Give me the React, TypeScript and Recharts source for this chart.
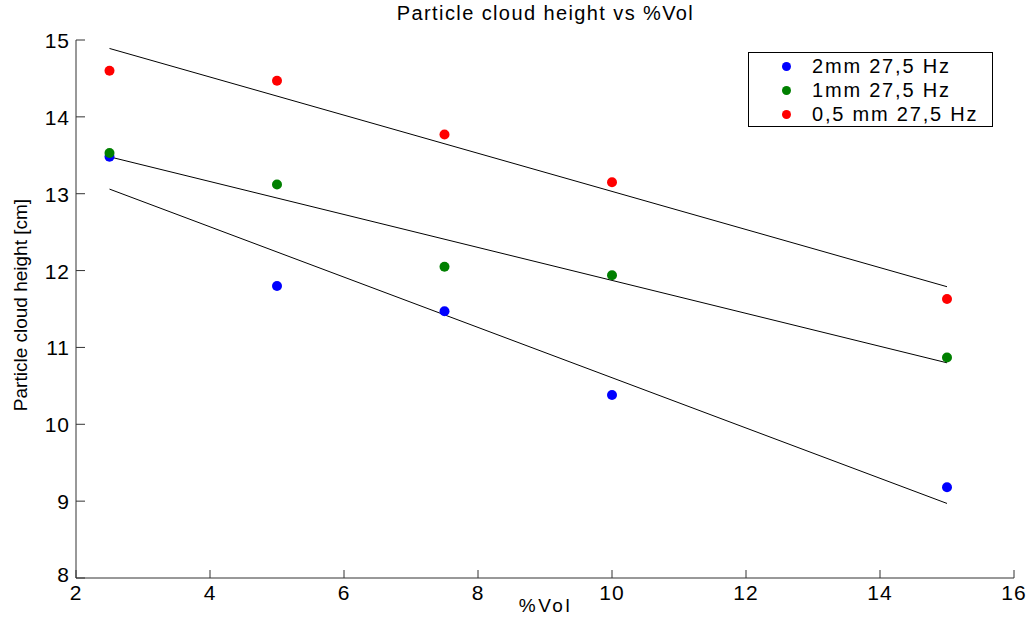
import {
  ComposedChart,
  Scatter,
  XAxis,
  YAxis,
} from "recharts"

const VOL = [2.5, 5, 7.5, 10, 15]

const HEIGHT_2MM = [13.48, 11.8, 11.47, 10.38, 9.18]
const HEIGHT_1MM = [13.53, 13.12, 12.05, 11.94, 10.87]
const HEIGHT_05MM = [14.6, 14.47, 13.77, 13.15, 11.63]

// end points of the fitted lines
const FIT_X = [2.5, 15]
const FIT_2MM = [13.06, 8.97]
const FIT_1MM = [13.48, 10.8]
const FIT_05MM = [14.89, 11.79]

const X_TICKS = [2, 4, 6, 8, 10, 12, 14, 16]
const Y_TICKS = [8, 9, 10, 11, 12, 13, 14, 15]

const SERIES = [
  { name: "2mm 27,5 Hz", values: HEIGHT_2MM, fit: FIT_2MM, color: "#0000ff" },
  { name: "1mm 27,5 Hz", values: HEIGHT_1MM, fit: FIT_1MM, color: "#008000" },
  { name: "0,5 mm 27,5 Hz", values: HEIGHT_05MM, fit: FIT_05MM, color: "#ff0000" },
]

const FONT = "'Liberation Sans', Arial, sans-serif"

const toPoints = (xs: number[], ys: number[]) => xs.map((x, i) => ({ x, y: ys[i] }))

const Dot = (props: any) => (
  <circle cx={props.cx} cy={props.cy} r={5} fill={props.fill} />
)

const NoDot = () => <g />

const XTick = (props: any) => {
  const { x, y, payload } = props
  return (
    <g>
      <line x1={x} y1={y} x2={x} y2={y - 8} stroke="#333" />
      <text x={x} y={y + 22} textAnchor="middle" fontSize={21} letterSpacing={1} fontFamily={FONT} fill="#000">
        {payload.value}
      </text>
    </g>
  )
}

const YTick = (props: any) => {
  const { x, y, payload } = props
  return (
    <g>
      <line x1={x} y1={y} x2={x + 9} y2={y} stroke="#333" />
      <text x={x - 6} y={payload.value === 8 ? y + 4 : y + 8} textAnchor="end" fontSize={21} letterSpacing={1} fontFamily={FONT} fill="#000">
        {payload.value}
      </text>
    </g>
  )
}

const LegendBox = () => (
  <div
    style={{
      position: "absolute",
      left: 748,
      top: 52,
      border: "1px solid #000",
      background: "#fff",
      width: 245,
      height: 75,
      boxSizing: "border-box",
      padding: "1px 0 0 0",
      fontFamily: FONT,
      fontSize: 20,
      letterSpacing: 1.8,
    }}
  >
    {SERIES.map((s) => (
      <div key={s.name} style={{ display: "flex", alignItems: "center", height: 24 }}>
        <span
          style={{
            display: "inline-block",
            width: 9,
            height: 9,
            borderRadius: "50%",
            background: s.color,
            marginLeft: 33,
            marginRight: 21,
          }}
        />
        <span>{s.name}</span>
      </div>
    ))}
  </div>
)

export default function App() {
  return (
    <div style={{ position: "absolute", left: 0, top: 0, width: 1031, height: 622, background: "#fff" }}>
      <div
        style={{
          position: "absolute",
          left: 0,
          width: 1031,
          top: 2,
          textAlign: "center",
          fontFamily: FONT,
          fontSize: 20,
          letterSpacing: 1.4,
          paddingLeft: 60,
          boxSizing: "border-box",
        }}
      >
        Particle cloud height vs %Vol
      </div>
      <div
        style={{
          position: "absolute",
          left: 21,
          top: 305,
          transform: "translate(-50%, -50%) rotate(-90deg)",
          whiteSpace: "nowrap",
          fontFamily: FONT,
          fontSize: 19,
        }}
      >
        Particle cloud height [cm]
      </div>
      <div
        style={{
          position: "absolute",
          left: 0,
          width: 1031,
          paddingLeft: 60,
          boxSizing: "border-box",
          top: 595,
          textAlign: "center",
          fontFamily: FONT,
          fontSize: 19,
          letterSpacing: 2.5,
        }}
      >
        %Vol
      </div>
      <ComposedChart width={1031} height={622} margin={{ top: 40, right: 17, bottom: 0, left: 0 }}>
        <XAxis
          type="number"
          dataKey="x"
          domain={[2, 16]}
          ticks={X_TICKS}
          tickSize={0}
          tickMargin={0}
          height={44}
          tick={<XTick />}
          stroke="#333"
          allowDataOverflow
        />
        <YAxis
          type="number"
          dataKey="y"
          domain={[8, 15]}
          ticks={Y_TICKS}
          tickSize={0}
          tickMargin={0}
          width={76}
          tick={<YTick />}
          stroke="#333"
          allowDataOverflow
        />
        {SERIES.map((s) => (
          <Scatter
            key={s.name + "-fit"}
            data={toPoints(FIT_X, s.fit)}
            line={{ stroke: "#000", strokeWidth: 1 }}
            shape={<NoDot />}
            legendType="none"
            isAnimationActive={false}
          />
        ))}
        {SERIES.map((s) => (
          <Scatter
            key={s.name}
            name={s.name}
            data={toPoints(VOL, s.values)}
            fill={s.color}
            shape={<Dot />}
            isAnimationActive={false}
          />
        ))}
      </ComposedChart>
      <LegendBox />
    </div>
  )
}
